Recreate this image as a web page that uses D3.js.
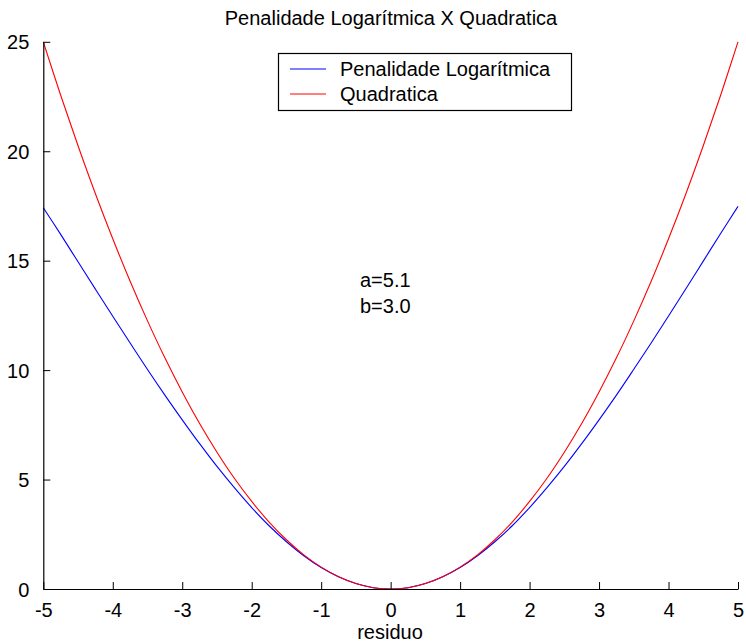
<!DOCTYPE html>
<html><head><meta charset="utf-8">
<script src="https://cdn.jsdelivr.net/npm/d3@7"></script>
<style>
body{margin:0;background:#fff;}
text{font-family:"Liberation Sans",Arial,sans-serif;fill:#000;}
</style></head>
<body><svg id="c" width="746" height="643"></svg>
<script>
const title = "Penalidade Logarítmica X Quadratica";
const xLabel = "residuo";
const seriesNames = ["Penalidade Logarítmica", "Quadratica"];
const seriesColors = ["#0000ff", "#ff0000"];
const annotation = ["a=5.1", "b=3.0"];
const xTicks = [-5,-4,-3,-2,-1,0,1,2,3,4,5];
const yTicks = [0,5,10,15,20,25];
// residuo samples
const residuo = [-5,-4.75,-4.5,-4.25,-4,-3.75,-3.5,-3.25,-3,-2.75,-2.5,-2.25,-2,-1.75,-1.5,-1.25,-1,-0.75,-0.5,-0.25,0,
  0.25,0.5,0.75,1,1.25,1.5,1.75,2,2.25,2.5,2.75,3,3.25,3.5,3.75,4,4.25,4.5,4.75,5];
// Penalidade Logarítmica (blue)
const logPen = [17.42,16.2,14.95,13.7,12.46,11.24,10.03,8.86,7.73,6.64,5.6,4.63,3.72,2.89,2.16,1.52,0.98,0.56,0.25,0.06,0,
  0.06,0.25,0.56,0.98,1.52,2.16,2.89,3.72,4.63,5.6,6.64,7.73,8.86,10.04,11.24,12.47,13.72,14.98,16.24,17.48];
// Quadratica (red)
const quad = [25,22.56,20.25,18.06,16,14.06,12.25,10.56,9,7.56,6.25,5.06,4,3.06,2.25,1.56,1,0.56,0.25,0.06,0,
  0.06,0.25,0.56,1,1.56,2.25,3.06,4,5.06,6.25,7.56,9,10.56,12.25,14.06,16,18.06,20.25,22.56,25];

const svg = d3.select("#c");
const x = d3.scaleLinear().domain([-5,5]).range([43.3,738]);
const y = d3.scaleLinear().domain([0,25]).range([589,41.8]);
const FS = "20px";
const fmt = d => String(d); // plain hyphen-minus as in the reference

// title
svg.append("text").attr("x",391).attr("y",25).attr("text-anchor","middle").style("font-size",FS).text(title);

// lines
const line = d3.line().x((d,i)=>x(residuo[i])).y(d=>y(d)).curve(d3.curveCatmullRom.alpha(0.5));
[logPen, quad].forEach((s,k)=>{
  svg.append("path").datum(s).attr("d",line).attr("fill","none")
    .attr("stroke",seriesColors[k]).attr("stroke-width",1.1);
});

// axes (ticks inward)
const xAxis = d3.axisBottom(x).tickValues(xTicks).tickFormat(fmt).tickSizeInner(-7).tickSizeOuter(0).tickPadding(16);
const gx = svg.append("g").attr("transform","translate(0,589)").call(xAxis);
const yAxis = d3.axisLeft(y).tickValues(yTicks).tickFormat(fmt).tickSizeInner(-7).tickSizeOuter(0).tickPadding(14);
const gy = svg.append("g").attr("transform","translate(43.3,0)").call(yAxis);
[gx,gy].forEach(g=>{
  g.select(".domain").attr("stroke","#000").attr("stroke-width",1.2);
  g.selectAll(".tick line").attr("stroke","#000").attr("stroke-width",1);
  g.selectAll(".tick text").style("font-size",FS).style("font-family","Liberation Sans, Arial, sans-serif").attr("fill","#000");
});
gx.selectAll(".tick text").attr("dy","0.62em");
gy.selectAll(".tick text").attr("dy","0.35em");

// x label
svg.append("text").attr("x",390).attr("y",639).attr("text-anchor","middle").style("font-size",FS).text(xLabel);

// annotation
annotation.forEach((t,i)=>{
  svg.append("text").attr("x",360).attr("y",287+i*26).style("font-size",FS).text(t);
});

// legend
const lg = svg.append("g");
lg.append("rect").attr("x",278.5).attr("y",53.5).attr("width",293).attr("height",57)
  .attr("fill","#fff").attr("stroke","#000").attr("stroke-width",1.2);
seriesNames.forEach((n,i)=>{
  const yy = 69 + i*25;
  lg.append("line").attr("x1",290).attr("x2",326).attr("y1",yy).attr("y2",yy)
    .attr("stroke",seriesColors[i]).attr("stroke-width",1);
  lg.append("text").attr("x",340).attr("y",yy+7).style("font-size",FS).text(n);
});
</script></body></html>
